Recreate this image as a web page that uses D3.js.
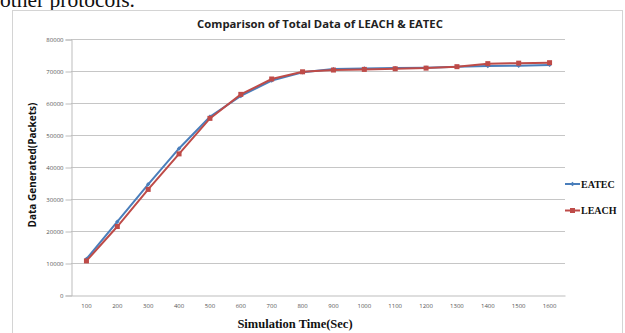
<!DOCTYPE html>
<html>
<head>
<meta charset="utf-8">
<script src="https://cdn.jsdelivr.net/npm/d3@7"></script>
<style>
    body { margin: 0; background: #fff; }
    svg { display: block; }
</style>
</head>
<body>
<svg id="chart" width="625" height="333"></svg>
<script>
// values
const times = ["100", "200", "300", "400", "500", "600", "700", "800",
               "900", "1000", "1100", "1200", "1300", "1400", "1500", "1600"];
const eatec = [11250, 22900, 34600, 45800, 55700, 62200, 67000, 69600,
               70600, 70800, 70900, 71000, 71300, 71550, 71650, 71900];
const leach = [10650, 21400, 33000, 44100, 55200, 62700, 67500, 69750,
               70300, 70500, 70700, 70900, 71350, 72300, 72450, 72600];
const yTicks = [0, 10000, 20000, 30000, 40000, 50000, 60000, 70000, 80000];

const series = [
    {name: "EATEC", values: eatec, color: "#4a7ebb", marker: "diamond"},
    {name: "LEACH", values: leach, color: "#be4b48", marker: "square"}
];

let svg = d3.select("#chart");

// bit of page text above the figure (cut by the top edge, as in the scan)
svg.append("text")
    .attr("x", 0).attr("y", 7)
    .style("font-family", "Liberation Serif, serif")
    .style("font-size", "21.5px")
    .style("fill", "#111")
    .text("other protocols.");

// chart frame
svg.append("rect")
    .attr("x", 12.5).attr("y", 10.5)
    .attr("width", 610).attr("height", 340)
    .attr("fill", "#fff")
    .attr("stroke", "#d4d4d4");

let plot = {left: 71, right: 565, top: 39, bottom: 295};

let x = d3.scaleBand()
    .domain(times)
    .range([plot.left, plot.right]);

let y = d3.scaleLinear()
    .domain([0, 80000])
    .range([plot.bottom, plot.top]);

// gridlines
svg.append("g")
    .selectAll("line")
    .data(yTicks.filter(d => d > 0))
    .enter().append("line")
    .attr("x1", plot.left).attr("x2", plot.right)
    .attr("y1", d => Math.round(y(d)) + 0.5).attr("y2", d => Math.round(y(d)) + 0.5)
    .attr("stroke", "#c6c6c6");

// y axis
let yAxis = svg.append("g")
    .attr("transform", "translate(" + (plot.left + 0.5) + ",0.5)")
    .call(d3.axisLeft(y).tickValues(yTicks).tickSize(6).tickPadding(2).tickFormat(d3.format("d")));
yAxis.select(".domain").attr("stroke", "#bdbdbd");
yAxis.selectAll(".tick line").attr("stroke", "#bdbdbd");
yAxis.selectAll("text")
    .style("font-family", "Open Sans, sans-serif")
    .style("font-size", "6px")
    .attr("fill", "#555");

// x axis
let xAxis = svg.append("g")
    .attr("transform", "translate(0," + (plot.bottom + 0.5) + ")")
    .call(d3.axisBottom(x).tickSize(0).tickPadding(8));
xAxis.select(".domain").attr("stroke", "#bdbdbd");
xAxis.selectAll("text")
    .style("font-family", "Open Sans, sans-serif")
    .style("font-size", "6px")
    .attr("fill", "#555");

// lines
let line = d3.line()
    .x((d, i) => x(times[i]) + x.bandwidth() / 2)
    .y(d => y(d));

let groups = svg.selectAll(".series")
    .data(series)
    .enter().append("g")
    .attr("class", "series");

groups.append("path")
    .attr("d", d => line(d.values))
    .attr("fill", "none")
    .attr("stroke", d => d.color)
    .attr("stroke-width", 2);

function drawMarker(sel, kind, color) {
    if (kind === "square") {
        sel.append("rect")
            .attr("x", -2.5).attr("y", -2.5)
            .attr("width", 5).attr("height", 5)
            .attr("fill", color);
    } else {
        sel.append("path")
            .attr("d", "M0,-2.2L2.2,0L0,2.2L-2.2,0Z")
            .attr("fill", color);
    }
}

groups.each(function (s) {
    d3.select(this).selectAll(".pt")
        .data(s.values)
        .enter().append("g")
        .attr("class", "pt")
        .attr("transform", (d, i) => "translate(" + (x(times[i]) + x.bandwidth() / 2) + "," + y(d) + ")")
        .each(function () { drawMarker(d3.select(this), s.marker, s.color); });
});

// title
svg.append("text")
    .attr("x", 320).attr("y", 28)
    .attr("text-anchor", "middle")
    .style("font-family", "Open Sans, sans-serif")
    .style("font-weight", "bold")
    .style("font-size", "11.3px")
    .style("fill", "#222")
    .text("Comparison of Total Data of LEACH & EATEC");

// axis titles
svg.append("text")
    .attr("transform", "translate(36,165) rotate(-90)")
    .attr("text-anchor", "middle")
    .style("font-family", "Open Sans, sans-serif")
    .style("font-weight", "bold")
    .style("font-size", "10px")
    .style("fill", "#111")
    .text("Data Generated(Packets)");

svg.append("text")
    .attr("x", 295).attr("y", 328)
    .attr("text-anchor", "middle")
    .style("font-family", "Liberation Serif, serif")
    .style("font-weight", "bold")
    .style("font-size", "12.5px")
    .style("fill", "#111")
    .text("Simulation Time(Sec)");

// legend
let legend = svg.selectAll(".legend")
    .data(series)
    .enter().append("g")
    .attr("class", "legend")
    .attr("transform", (d, i) => "translate(565," + (184 + i * 26.5) + ")");

legend.append("line")
    .attr("x1", 0).attr("x2", 15)
    .attr("stroke", d => d.color)
    .attr("stroke-width", 2);
legend.each(function (s) {
    let m = d3.select(this).append("g").attr("transform", "translate(7.5,0)");
    drawMarker(m, s.marker, s.color);
});
legend.append("text")
    .attr("x", 16).attr("y", 3.5)
    .style("font-family", "Liberation Serif, serif")
    .style("font-weight", "bold")
    .style("font-size", "10px")
    .style("fill", "#111")
    .text(d => d.name);
</script>
</body>
</html>
